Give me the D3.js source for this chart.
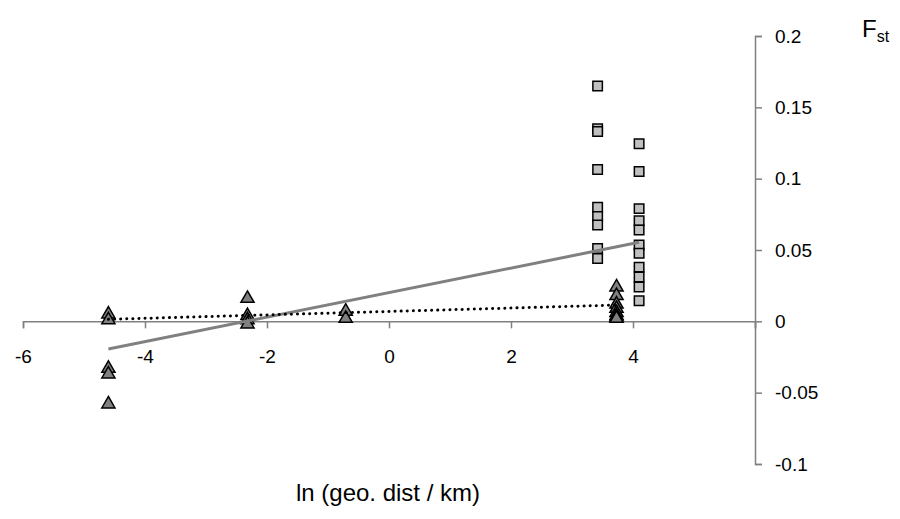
<!DOCTYPE html>
<html>
<head>
<meta charset="utf-8">
<script src="https://cdn.jsdelivr.net/npm/d3@7"></script>
<style>
  html, body { margin: 0; padding: 0; background: #fff; }
  svg { display: block; font-family: "Liberation Sans", Arial, sans-serif; }
</style>
</head>
<body>
<svg id="chart" width="900" height="519"></svg>
<script>
// ---- data ----
const xTicks = [-6, -4, -2, 0, 2, 4, 6];
const xTickLabels = ["-6", "-4", "-2", "0", "2", "4", ""];
const yTicks = [-0.1, -0.05, 0, 0.05, 0.1, 0.15, 0.2];
const yTickLabels = ["-0.1", "-0.05", "0", "0.05", "0.1", "0.15", "0.2"];

// squares (light grey)
const squareX = [3.42, 3.42, 3.42, 3.42, 3.42, 3.42, 3.42, 3.42, 3.42,
                 4.10, 4.10, 4.10, 4.10, 4.10, 4.10, 4.10, 4.10, 4.10, 4.10, 4.10];
const squareY = [0.165, 0.135, 0.133, 0.1065, 0.080, 0.0735, 0.0675, 0.051, 0.044,
                 0.1245, 0.105, 0.079, 0.0705, 0.064, 0.0535, 0.0477, 0.038, 0.031, 0.024, 0.0144];

// triangles (dark grey)
const triX = [-4.6, -4.6, -4.6, -4.6, -4.6,
              -2.32, -2.32, -2.32, -2.32,
              -0.71, -0.71,
              3.73, 3.73, 3.73, 3.73, 3.73, 3.73, 3.73, 3.73];
const triY = [0.005, 0.001, -0.033, -0.037, -0.058,
              0.016, 0.004, 0.001, -0.002,
              0.007, 0.002,
              0.024, 0.018, 0.012, 0.009, 0.006, 0.004, 0.003, 0.002];

// trend lines (endpoints)
const solidTrendX = [-4.6, 4.10];
const solidTrendY = [-0.0194, 0.0554];
const dottedTrendX = [-4.6, 3.73];
const dottedTrendY = [0.0014, 0.0114];

// ---- chart ----
const svg = d3.select("#chart");
const x = d3.scaleLinear().domain([-6, 6]).range([23, 755]);
const y = d3.scaleLinear().domain([-0.1, 0.2]).range([464, 36]);
const axisColor = "#808080";
const fontFam = "Liberation Sans, Arial, sans-serif";

// x axis at y = 0
const xAxis = d3.axisBottom(x).tickValues(xTicks)
  .tickFormat((d, i) => xTickLabels[i]).tickSize(7).tickPadding(21);
const gx = svg.append("g").attr("transform", `translate(0,${y(0)})`).call(xAxis);
gx.select(".domain").attr("stroke", axisColor).attr("stroke-width", 1.5);
gx.selectAll(".tick line").attr("stroke", axisColor).attr("stroke-width", 1.5);
gx.selectAll(".tick text").attr("fill", "#000").attr("font-size", 19)
  .attr("font-family", fontFam);

// y axis at x = 6 (right side)
const yAxis = d3.axisRight(y).tickValues(yTicks)
  .tickFormat((d, i) => yTickLabels[i]).tickSize(7).tickPadding(13);
const gy = svg.append("g").attr("transform", `translate(${x(6)},0)`).call(yAxis);
gy.select(".domain").attr("stroke", axisColor).attr("stroke-width", 1.5);
gy.selectAll(".tick line").attr("stroke", axisColor).attr("stroke-width", 1.5);
gy.selectAll(".tick text").attr("fill", "#000").attr("font-size", 19)
  .attr("font-family", fontFam);

// squares
const sq = d3.symbol().type(d3.symbolSquare).size(90);
svg.append("g").selectAll("path").data(squareX.map((v, i) => [v, squareY[i]]))
  .join("path")
  .attr("d", sq)
  .attr("transform", d => `translate(${x(d[0])},${y(d[1])})`)
  .attr("fill", "#c0c0c0").attr("stroke", "#000").attr("stroke-width", 1.5);

// triangles
const tri = d3.symbol().type(d3.symbolTriangle).size(75);
svg.append("g").selectAll("path").data(triX.map((v, i) => [v, triY[i]]))
  .join("path")
  .attr("d", tri)
  .attr("transform", d => `translate(${x(d[0])},${y(d[1])})`)
  .attr("fill", "#808080").attr("stroke", "#000").attr("stroke-width", 1.5);

// trend lines
const line = d3.line().x(d => x(d[0])).y(d => y(d[1]));
svg.append("path")
  .datum(solidTrendX.map((v, i) => [v, solidTrendY[i]]))
  .attr("d", line).attr("fill", "none")
  .attr("stroke", "#808080").attr("stroke-width", 3);
svg.append("path")
  .datum(dottedTrendX.map((v, i) => [v, dottedTrendY[i]]))
  .attr("d", line).attr("fill", "none")
  .attr("stroke", "#000").attr("stroke-width", 3)
  .attr("stroke-linecap", "round").attr("stroke-dasharray", "0.1 6");

// axis titles
svg.append("text").attr("x", 388).attr("y", 501).attr("text-anchor", "middle")
  .attr("font-size", 24).attr("fill", "#000").text("ln (geo. dist / km)");
const ft = svg.append("text").attr("x", 862).attr("y", 37).attr("font-size", 24).attr("fill", "#000");
ft.append("tspan").text("F");
ft.append("tspan").attr("font-size", 16).attr("dy", 5).text("st");
</script>
</body>
</html>
